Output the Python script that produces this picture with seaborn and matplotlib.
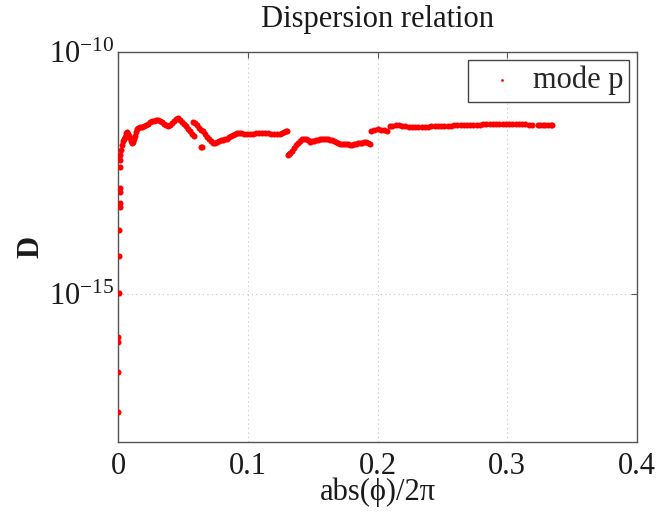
import numpy as np
import pandas as pd
import matplotlib
matplotlib.use("Agg")
import matplotlib.pyplot as plt
from matplotlib.ticker import NullLocator, LogFormatterMathtext
import seaborn as sns

# ---- data: phase abs(phi)/2pi and log10 of the dispersion D ----
# points hugging phi = 0
x_zero = [0.0018, 0.0018, 0.0012, 0.0012, 0.0012, 0.0012, 0.0008,
          0.0004, 0.0004, 0.0002, 0.0002, 0.0002, 0.0002]
logd_zero = [-12.23, -12.38, -12.81, -12.89, -13.12, -13.20, -13.68,
             -14.21, -14.98, -15.89, -16.00, -16.61, -17.44]

# first branch, rising hump
x_a = [0.0015, 0.0023, 0.0031, 0.0039, 0.0046, 0.0054, 0.0062, 0.0069,
       0.0077, 0.0085, 0.0092, 0.0100, 0.0108, 0.0116, 0.0123, 0.0131,
       0.0139, 0.0146, 0.0154, 0.0170, 0.0185, 0.0200, 0.0216, 0.0231,
       0.0247, 0.0262, 0.0277, 0.0293, 0.0308, 0.0324, 0.0339, 0.0355,
       0.0370, 0.0385, 0.0401, 0.0416, 0.0432, 0.0447, 0.0462, 0.0478,
       0.0493, 0.0509, 0.0524, 0.0539, 0.0555, 0.0570, 0.0586]
logd_a = [-12.13, -12.02, -11.92, -11.84, -11.80, -11.76, -11.67, -11.65,
          -11.69, -11.74, -11.78, -11.84, -11.88, -11.86, -11.80, -11.74,
          -11.65, -11.59, -11.57, -11.55, -11.54, -11.53, -11.50, -11.48,
          -11.45, -11.43, -11.42, -11.40, -11.40, -11.42, -11.45, -11.49,
          -11.51, -11.52, -11.50, -11.47, -11.43, -11.39, -11.37, -11.40,
          -11.45, -11.49, -11.53, -11.59, -11.63, -11.69, -11.74]

# second branch, plateau up to ~0.13
x_b = [0.0578, 0.0593, 0.0609, 0.0624, 0.0640, 0.0655, 0.0671, 0.0686,
       0.0701, 0.0717, 0.0732, 0.0748, 0.0763, 0.0778, 0.0794, 0.0809,
       0.0825, 0.0840, 0.0855, 0.0871, 0.0886, 0.0902, 0.0917, 0.0933,
       0.0948, 0.0971, 0.0994, 0.1017, 0.1040, 0.1064, 0.1087, 0.1110,
       0.1133, 0.1156, 0.1179, 0.1202, 0.1225, 0.1249, 0.1264, 0.1279,
       0.1295, 0.1303, 0.0640, 0.0648]
logd_b = [-11.44, -11.47, -11.51, -11.56, -11.60, -11.63, -11.69, -11.76,
          -11.80, -11.84, -11.87, -11.88, -11.86, -11.83, -11.82, -11.81,
          -11.80, -11.79, -11.76, -11.74, -11.71, -11.70, -11.68, -11.68,
          -11.68, -11.69, -11.70, -11.69, -11.69, -11.68, -11.68, -11.68,
          -11.68, -11.68, -11.69, -11.69, -11.69, -11.69, -11.67, -11.65,
          -11.63, -11.63, -11.95, -11.97]

# third branch, 0.13 - 0.195
x_c = [0.1310, 0.1318, 0.1326, 0.1341, 0.1356, 0.1372, 0.1387, 0.1403,
       0.1418, 0.1434, 0.1449, 0.1464, 0.1480, 0.1495, 0.1511, 0.1526,
       0.1541, 0.1557, 0.1572, 0.1588, 0.1603, 0.1618, 0.1634, 0.1649,
       0.1665, 0.1680, 0.1696, 0.1711, 0.1726, 0.1742, 0.1757, 0.1773,
       0.1788, 0.1803, 0.1819, 0.1834, 0.1850, 0.1865, 0.1881, 0.1896,
       0.1911, 0.1927, 0.1942]
logd_c = [-12.13, -12.11, -12.09, -12.05, -11.98, -11.92, -11.87, -11.84,
          -11.80, -11.79, -11.80, -11.82, -11.85, -11.84, -11.83, -11.82,
          -11.81, -11.80, -11.80, -11.80, -11.80, -11.80, -11.81, -11.82,
          -11.84, -11.86, -11.88, -11.89, -11.89, -11.90, -11.90, -11.90,
          -11.91, -11.91, -11.90, -11.89, -11.88, -11.87, -11.87, -11.86,
          -11.86, -11.87, -11.89]

# fourth branch, 0.195 - 0.32
x_d = [0.1950, 0.1975, 0.2000, 0.2025, 0.2050, 0.2075, 0.2095, 0.2115,
       0.2140, 0.2165, 0.2190, 0.2215, 0.2240, 0.2265, 0.2290, 0.2315,
       0.2340, 0.2365, 0.2390, 0.2415, 0.2440, 0.2465, 0.2490, 0.2515,
       0.2540, 0.2565, 0.2590, 0.2615, 0.2640, 0.2665, 0.2690, 0.2715,
       0.2740, 0.2765, 0.2790, 0.2815, 0.2840, 0.2865, 0.2890, 0.2915,
       0.2940, 0.2965, 0.2990, 0.3015, 0.3040, 0.3065, 0.3090, 0.3115,
       0.3140, 0.3165, 0.3190]
logd_d = [-11.62, -11.60, -11.59, -11.60, -11.61, -11.63, -11.53, -11.52,
          -11.51, -11.51, -11.52, -11.53, -11.54, -11.55, -11.55, -11.55,
          -11.54, -11.54, -11.54, -11.53, -11.53, -11.52, -11.52, -11.52,
          -11.52, -11.52, -11.51, -11.51, -11.50, -11.50, -11.50, -11.50,
          -11.50, -11.50, -11.50, -11.49, -11.49, -11.49, -11.49, -11.49,
          -11.49, -11.49, -11.49, -11.49, -11.49, -11.49, -11.49, -11.49,
          -11.49, -11.50, -11.50]

# last short piece
x_e = [0.3235, 0.3255, 0.3275, 0.3295, 0.3315, 0.3335, 0.3345]
logd_e = [-11.50, -11.50, -11.50, -11.50, -11.50, -11.50, -11.50]

x_ticks = [0, 0.1, 0.2, 0.3, 0.4]
y_ticks = [1e-15, 1e-10]

# ---- assemble ----
phase = np.concatenate([x_zero, x_a, x_b, x_c, x_d, x_e])
logd = np.concatenate([logd_zero, logd_a, logd_b, logd_c, logd_d, logd_e])
df = pd.DataFrame({"phase": phase, "D": 10.0 ** logd})

sns.set_theme(style="white")
plt.rcParams["font.family"] = ["Liberation Serif", "DejaVu Serif"]
plt.rcParams["mathtext.fontset"] = "stix"

FS = 22
fig = plt.figure(figsize=(6.6, 5.17), dpi=100)
ax = fig.add_axes([0.179, 0.145, 0.786, 0.754])

sns.scatterplot(data=df, x="phase", y="D", color="#ff0000", s=19,
                linewidth=0, marker="o", label="mode p", ax=ax, zorder=3)

ax.set_yscale("log")
ax.set_xlim(0, 0.4)
ax.set_ylim(10 ** -18.06, 1e-10)
ax.set_xticks(x_ticks)
ax.set_xticklabels(["0", "0.1", "0.2", "0.3", "0.4"])
ax.set_yticks(y_ticks)
ax.yaxis.set_major_formatter(LogFormatterMathtext())
ax.yaxis.set_minor_locator(NullLocator())
ax.xaxis.set_minor_locator(NullLocator())

ax.grid(True, which="major", linestyle=(0, (1, 3)), color="#c4c4c4", lw=0.8)
for s in ax.spines.values():
    s.set_color("#555555")
    s.set_linewidth(1.0)
ax.tick_params(direction="in", top=True, right=True, length=4,
               width=0.8, color="#555555", labelsize=FS, labelcolor="#1a1a1a")
ax.tick_params(axis="x", pad=7)
ax.tick_params(axis="y", pad=3)

ax.set_title("Dispersion relation", fontsize=FS, pad=18, color="#1a1a1a")
ax.set_xlabel("abs(\u03d5)/2\u03c0", fontsize=FS, labelpad=-2, color="#1a1a1a")
ax.set_ylabel("D", fontsize=FS, fontweight="bold", labelpad=2, color="#1a1a1a")

leg = ax.legend(loc="upper right", fontsize=FS, frameon=True, fancybox=False,
                framealpha=1, edgecolor="#444444", borderpad=0.2,
                handlelength=1.8, handletextpad=0.1, borderaxespad=0.25,
                markerscale=0.45)
leg.get_frame().set_linewidth(1.0)

fig.savefig("out.png", dpi=100)
